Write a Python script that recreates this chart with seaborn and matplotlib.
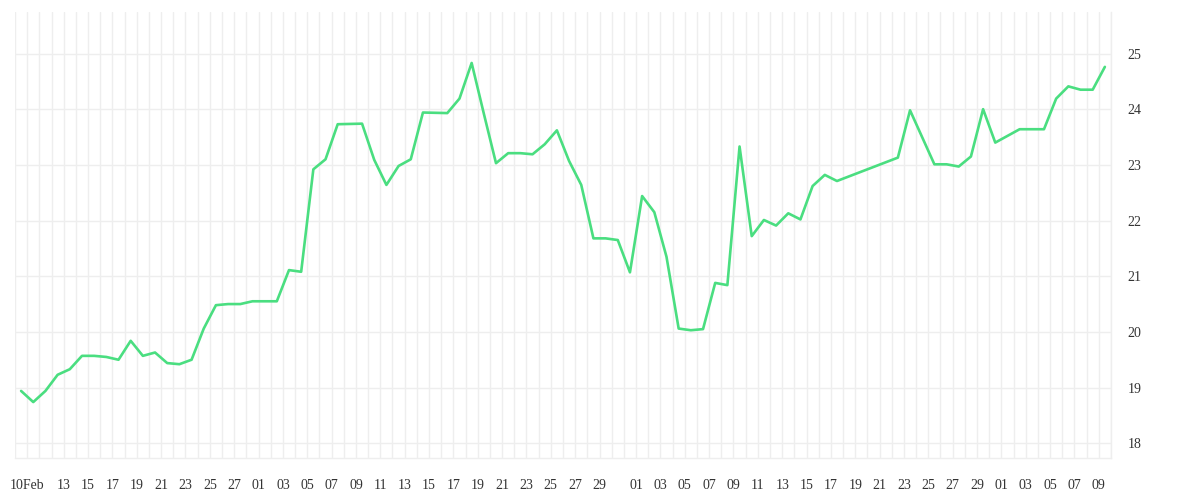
import seaborn as sns
import matplotlib.pyplot as plt
import matplotlib.dates as mdates
import pandas as pd

# day offset from 9 Feb 2023 (points sit at midday) and closing value
day = [0, 1, 2, 3, 4, 5, 6, 7, 8, 9, 10, 11, 12, 13, 14, 15, 16, 17, 18, 19,
       21, 22, 23, 24, 25, 26, 28, 29, 30, 31, 32, 33, 35, 36, 37, 38, 39, 40,
       41, 42, 43, 44, 45, 46, 47, 48, 49, 50, 51, 52, 53, 54, 55, 56, 57, 58,
       59, 60, 61, 62, 63, 64, 65, 66, 67, 72, 73, 75, 76, 77, 78, 79, 80, 82,
       84, 85, 86, 87, 88, 89]
value = [18.94, 18.74, 18.94, 19.23, 19.33, 19.57, 19.57, 19.55, 19.50, 19.84,
         19.57, 19.63, 19.44, 19.42, 19.50, 20.06, 20.48, 20.50, 20.50, 20.55,
         20.55, 21.11, 21.08, 22.92, 23.10, 23.73, 23.74, 23.09, 22.64, 22.98,
         23.10, 23.94, 23.93, 24.19, 24.83, 23.92, 23.03, 23.21, 23.21, 23.19,
         23.37, 23.62, 23.07, 22.64, 21.68, 21.68, 21.65, 21.07, 22.44, 22.15,
         21.35, 20.06, 20.03, 20.05, 20.88, 20.84, 23.33, 21.72, 22.01, 21.91,
         22.13, 22.02, 22.62, 22.82, 22.71, 23.13, 23.98, 23.01, 23.01, 22.97,
         23.15, 24.00, 23.40, 23.64, 23.64, 24.19, 24.41, 24.35, 24.35, 24.76]

tick_dates = ['2023-02-10', '2023-02-13', '2023-02-15', '2023-02-17', '2023-02-19',
              '2023-02-21', '2023-02-23', '2023-02-25', '2023-02-27', '2023-03-01',
              '2023-03-03', '2023-03-05', '2023-03-07', '2023-03-09', '2023-03-11',
              '2023-03-13', '2023-03-15', '2023-03-17', '2023-03-19', '2023-03-21',
              '2023-03-23', '2023-03-25', '2023-03-27', '2023-03-29', '2023-04-01',
              '2023-04-03', '2023-04-05', '2023-04-07', '2023-04-09', '2023-04-11',
              '2023-04-13', '2023-04-15', '2023-04-17', '2023-04-19', '2023-04-21',
              '2023-04-23', '2023-04-25', '2023-04-27', '2023-04-29', '2023-05-01',
              '2023-05-03', '2023-05-05', '2023-05-07', '2023-05-09']
tick_labels = ['10Feb', '13', '15', '17', '19', '21', '23', '25', '27', '01',
               '03', '05', '07', '09', '11', '13', '15', '17', '19', '21',
               '23', '25', '27', '29', '01', '03', '05', '07', '09', '11',
               '13', '15', '17', '19', '21', '23', '25', '27', '29', '01',
               '03', '05', '07', '09']
y_ticks = [18, 19, 20, 21, 22, 23, 24, 25]

start = pd.Timestamp('2023-02-09')
df = pd.DataFrame({'date': start + pd.Timedelta(hours=12) + pd.to_timedelta(day, unit='D'),
                   'value': value})

sns.set_style('white')
plt.rcParams['font.family'] = ['Liberation Serif', 'DejaVu Serif']

fig = plt.figure(figsize=(12, 5), dpi=100)
ax = fig.add_axes([0.0125, 0.0834, 0.9133, 0.892])

sns.lineplot(data=df, x='date', y='value', color='#4ade80', linewidth=1.9, ax=ax)

ax.set_xlim(start, pd.Timestamp('2023-05-10'))
ax.set_ylim(17.73, 25.74)

# grille : une ligne par jour, une ligne par unité
ax.xaxis.set_minor_locator(mdates.DayLocator())
ax.set_xticks(pd.to_datetime(tick_dates))
ax.set_xticklabels(tick_labels)
ax.set_yticks(y_ticks)
ax.grid(True, which='both', axis='x', color='#eeeeee', linewidth=1)
ax.grid(True, which='major', axis='y', color='#eeeeee', linewidth=1)
ax.set_axisbelow(True)

ax.yaxis.tick_right()
ax.tick_params(axis='both', which='both', length=0, labelsize=10, labelcolor='#333333')
ax.tick_params(axis='x', pad=15)
ax.tick_params(axis='y', pad=12)

for side in ['top', 'left']:
    ax.spines[side].set_visible(False)
for side in ['bottom', 'right']:
    ax.spines[side].set_color('#eeeeee')
    ax.spines[side].set_linewidth(1)

ax.set_xlabel('')
ax.set_ylabel('')

plt.savefig('out.png', dpi=100)
